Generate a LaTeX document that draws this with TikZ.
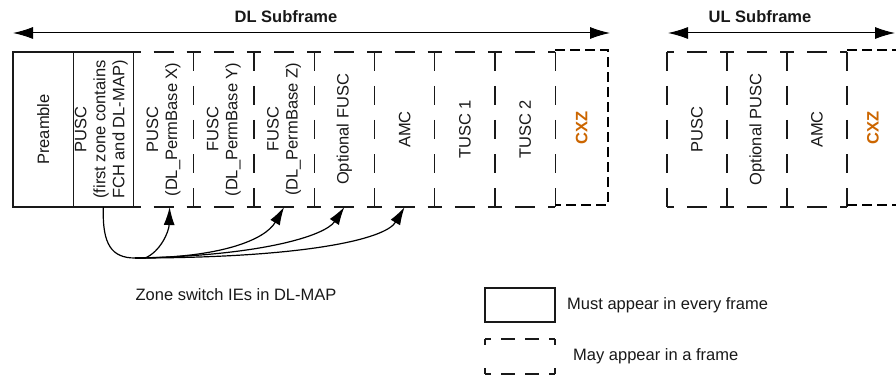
\documentclass[tikz,border=0pt]{standalone}
\usepackage{fontspec}
\setmainfont{Liberation Sans}
\usetikzlibrary{arrows.meta}
\definecolor{cxzorange}{RGB}{204,102,0}
\definecolor{inkgray}{RGB}{25,25,25}
\begin{document}
\begin{tikzpicture}[x=1pt,y=-1pt,
  lbl/.style={font=\fontsize{16.5}{19}\selectfont, text=inkgray, inner sep=0pt},
  titlelbl/.style={font=\fontsize{16.5}{19}\selectfont\bfseries, text=inkgray, inner sep=0pt},
  coltext/.style={lbl, rotate=90, align=center},
  cxztext/.style={coltext, font=\fontsize{16.5}{19}\selectfont\bfseries, text=cxzorange},
  frame/.style={anchor=north west, minimum width=60.25pt, minimum height=155pt, inner sep=0pt, outer sep=0pt},
  solidline/.style={line width=1.2pt, draw=inkgray},
  hdash/.style={line width=1.1pt, draw=inkgray, dash pattern=on 20pt off 13pt, dash phase=13pt},
  vdash/.style={line width=1.1pt, draw=inkgray, dash pattern=on 19pt off 15pt},
  thickdash/.style={line width=2.6pt, draw=black, dash pattern=on 10pt off 5pt},
  zline/.style={line width=1.2pt, draw=black},
  zarrow/.style={zline, -{Latex[length=18pt,width=11pt]}},
  spanarrow/.style={line width=1pt, draw=black, {Latex[length=20pt,width=12pt]}-{Latex[length=20pt,width=12pt]}},
  lhdash/.style={line width=1.3pt, draw=inkgray, dash pattern=on 14pt off 10pt, dash phase=8pt},
  lvdash/.style={line width=1.3pt, draw=inkgray, dash pattern=on 6pt off 23pt}
]
\clip (0,0) rectangle (896,377);
\fill[white] (0,0) rectangle (896,377);

% ---- DL subframe columns
\node[frame, solidline, draw] (pre)  at (13,52) {};
\node[frame, solidline, draw] (pusc) at (73.25,52) {};
\node[frame] (pux) at (133.5,52) {};
\node[frame] (fuy) at (193.75,52) {};
\node[frame] (fuz) at (254,52) {};
\node[frame] (ofu) at (314.25,52) {};
\node[frame] (amc) at (374.5,52) {};
\node[frame] (tu1) at (434.75,52) {};
\node[frame] (tu2) at (495,52) {};
\node[frame, minimum width=52.75pt] (cxzd) at (555.25,50) {};

% ---- UL subframe columns
\node[frame, minimum width=60pt] (upu) at (667,52) {};
\node[frame, minimum width=60pt] (uop) at (727,52) {};
\node[frame, minimum width=60pt] (uam) at (787,52) {};
\node[frame, minimum width=52pt] (cxzu) at (847,50) {};

% dashed column outlines
\foreach \n in {pux,fuy,fuz,ofu,amc,tu1,tu2,upu,uop,uam}{
  \draw[hdash] (\n.north west) -- (\n.north east);
  \draw[hdash] (\n.south west) -- (\n.south east);
  \draw[vdash] (\n.north east) -- (\n.south east);
}
\draw[vdash] (upu.north west) -- (upu.south west);

% thick dashed CXZ outlines
\draw[thickdash] (cxzd.north west) -- (cxzd.north east) -- (cxzd.south east) -- (cxzd.south west);
\draw[thickdash] (cxzu.north west) -- (cxzu.north east);
\draw[thickdash] (cxzu.south west) -- (cxzu.south east);

% column texts
\node[coltext] (pret) at (pre.center) {Preamble};
\node[coltext] (psct) at ([xshift=-2pt]pusc.center) {PUSC\\(first zone contains\\FCH and DL-MAP)};
\node[coltext] (puxt) at (pux.center) {PUSC\\(DL\_PermBase X)};
\node[coltext] (fuyt) at (fuy.center) {FUSC\\(DL\_PermBase Y)};
\node[coltext] (fuzt) at (fuz.center) {FUSC\\(DL\_PermBase Z)};
\node[coltext] (ofut) at (ofu.center) {Optional FUSC};
\node[coltext] (amct) at (amc.center) {AMC};
\node[coltext] (tu1t) at (tu1.center) {TUSC 1};
\node[coltext] (tu2t) at (tu2.center) {TUSC 2};
\node[cxztext] (cxdt) at (cxzd.center) {CXZ};
\node[coltext] (uput) at (upu.center) {PUSC};
\node[coltext] (uopt) at (uop.center) {Optional PUSC};
\node[coltext] (uamt) at (uam.center) {AMC};
\node[cxztext] (cxut) at (cxzu.center) {CXZ};

% subframe spans
\coordinate (dlL) at (13,33);
\coordinate (dlR) at (610,33);
\coordinate (ulL) at (668,33);
\coordinate (ulR) at (895,33);
\draw[spanarrow] (dlL) -- (dlR);
\draw[spanarrow] (ulL) -- (ulR);
\node[titlelbl] (dlt) at (286,17) {DL Subframe};
\node[titlelbl] (ult) at (760,17) {UL Subframe};

% zone switch connectors
\coordinate (zb) at (135,258);
\draw[zline] (pusc.south) .. controls (102,245) and (112,258) .. (zb);
\draw[zarrow] (zb) -- (145,258) .. controls (160,252) and (169,232) .. ([xshift=6pt]pux.south);
\draw[zarrow] (zb) .. controls (220,258) and (265,240) .. (fuz.south);
\draw[zarrow] (zb) .. controls (260,256) and (325,236) .. (ofu.south);
\draw[zarrow] (zb) .. controls (300,258) and (385,240) .. (amc.south);
\node[lbl] (zst) at (236,295) {Zone switch IEs in DL-MAP};

% legend
\node[anchor=north west, minimum width=70pt, minimum height=34pt, inner sep=0pt, outer sep=0pt, draw, solidline] (lgs) at (485,288) {};
\node[lbl, anchor=west] (lgst) at (567,305) {Must appear in every frame};
\node[anchor=north west, minimum width=70pt, minimum height=35pt, inner sep=0pt, outer sep=0pt] (lgd) at (485,339) {};
\draw[lhdash] (lgd.north west) -- (lgd.north east);
\draw[lhdash] (lgd.south west) -- (lgd.south east);
\draw[lvdash] (lgd.north west) -- (lgd.south west);
\draw[lvdash] (lgd.north east) -- (lgd.south east);
\node[lbl, anchor=west] (lgdt) at (573,356) {May appear in a frame};
\end{tikzpicture}
\end{document}
